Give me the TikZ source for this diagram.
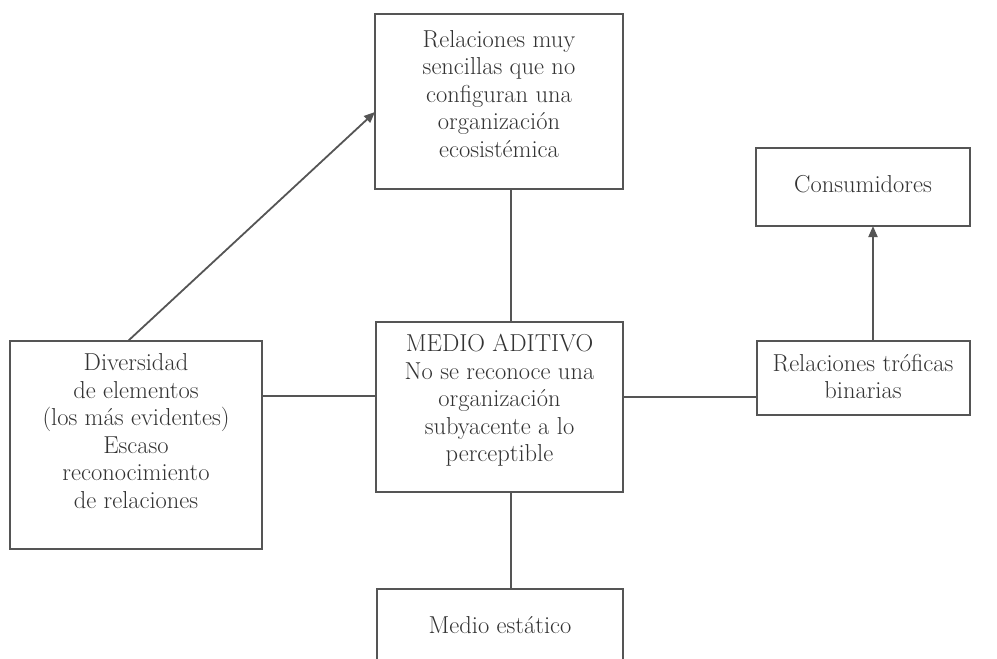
\documentclass[tikz,border=0pt]{standalone}
\usetikzlibrary{arrows.meta}
\definecolor{ln}{HTML}{555555}
\definecolor{tx}{HTML}{333333}
\begin{document}
\begin{tikzpicture}[x=1pt,y=-1pt,
  box/.style={draw=ln,line width=1.8pt,inner sep=0pt,outer sep=0pt},
  txt/.style={text=tx,align=center,inner sep=0pt,font=\fontsize{24.5}{27.5}\selectfont},
  conn/.style={draw=ln,line width=1.8pt},
  arr/.style={conn,-{Triangle[length=11pt,width=9pt]}}]
\clip (0,0) rectangle (997,659);
\fill[white] (0,0) rectangle (997,659);
% boxes
\node[box,minimum width=248pt,minimum height=175pt] (T) at (499,101.5) {};
\node[box,minimum width=214pt,minimum height=78pt] (C) at (863,187) {};
\node[box,minimum width=252pt,minimum height=208pt] (L) at (136,445) {};
\node[box,minimum width=247pt,minimum height=170pt] (M) at (499.5,407) {};
\node[box,minimum width=213pt,minimum height=74pt] (R) at (863.5,378) {};
\node[box,minimum width=246pt,minimum height=111pt] (B) at (500,644.5) {};
% texts
\node[txt] (tT) at (499,94) {Relaciones muy\\sencillas que no\\configuran una\\organización\\ecosistémica};
\node[txt] (tC) at (863,184.5) {Consumidores};
\node[txt] (tL) at (136,431) {Diversidad\\de elementos\\(los más evidentes)\\Escaso\\reconocimiento\\de relaciones};
\node[txt] (tM) at (499.5,400.5) {MEDIO ADITIVO\\No se reconoce una\\organización\\subyacente a lo\\perceptible};
\node[txt] (tR) at (863,376.5) {Relaciones tróficas\\binarias};
\node[txt] (tB) at (500,625.5) {Medio estático};
% connectors
\draw[conn] ([xshift=12pt]T.south) -- ([xshift=12pt]T.south |- M.north);
\draw[conn] ([xshift=11.5pt]M.south) -- ([xshift=11.5pt]M.south |- B.north);
\draw[conn] ([yshift=11pt]M.west) -- ([yshift=11pt]M.west -| L.east);
\draw[conn] ([yshift=10pt]M.east) -- ([yshift=10pt]M.east -| R.west);
\draw[arr] ([xshift=-8pt]L.north) -- ([yshift=-10.5pt]T.west);
\draw[arr] ([xshift=9.5pt]R.north) -- ([xshift=9.5pt]R.north |- C.south);
\end{tikzpicture}
\end{document}
